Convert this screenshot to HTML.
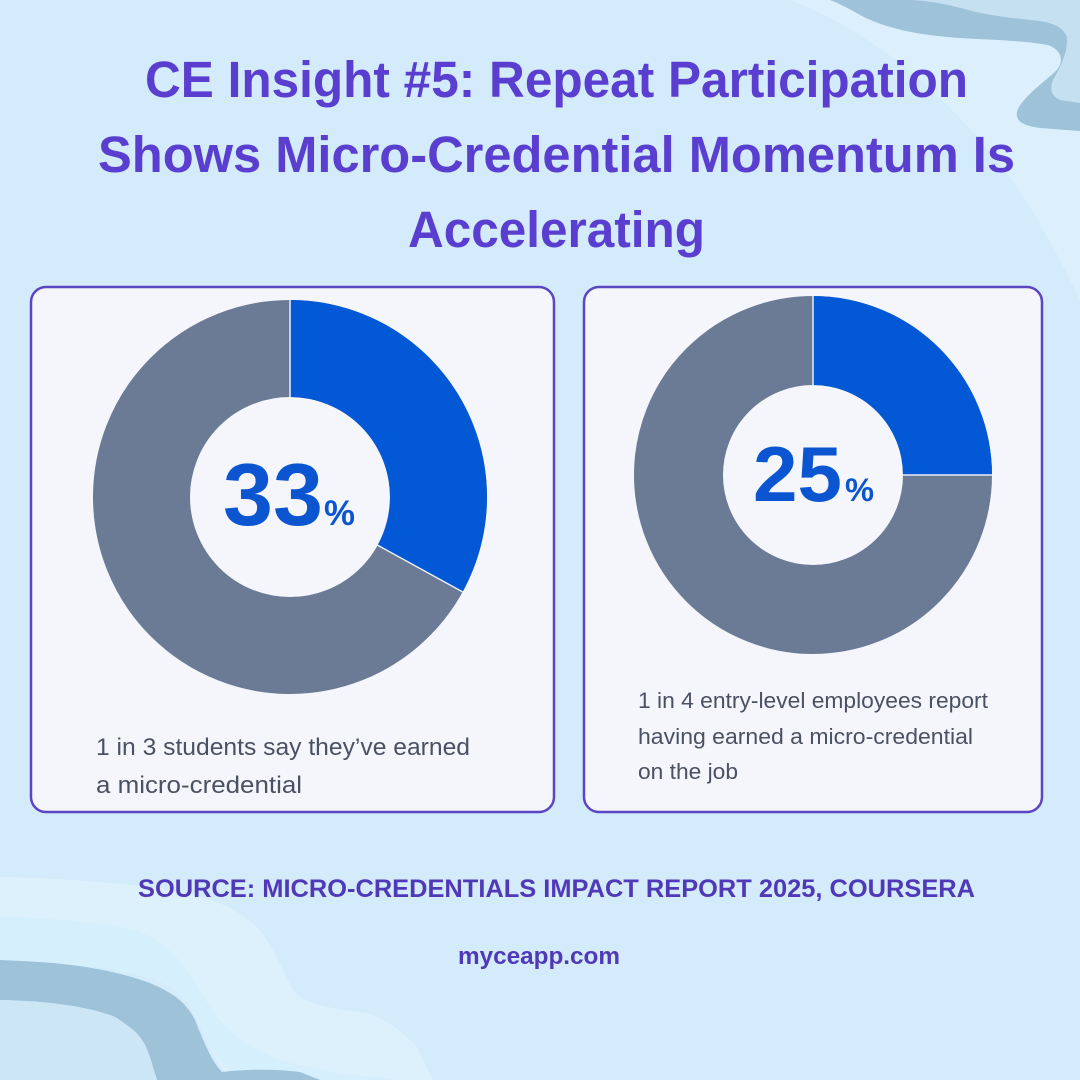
<!DOCTYPE html>
<html><head><meta charset="utf-8"><style>
html,body{margin:0;padding:0;background:#d3ebfa;}
svg{display:block;}
</style></head><body>
<svg width="1080" height="1080" viewBox="0 0 1080 1080" xmlns="http://www.w3.org/2000/svg">
<rect width="1080" height="1080" fill="#d3ebfa"/>
<!-- top-right light whitish stripe -->
<path d="M790 0 L830 0 C838 3 848 8 860 15 C885 28 915 35 960 38 C990 40 1020 40 1048 45 C1062 50 1065 62 1055 72 C1040 85 1020 100 1017 112 C1015 122 1025 126 1040 128 L1080 131 L1080 300 C1060 260 1040 220 1015 185 C990 150 960 115 920 80 C880 45 840 20 790 0 Z" fill="#dcf1fc" opacity="0.85"/>
<!-- top-right corner lighter region -->
<path d="M913 0 L1080 0 L1080 103 L1060 100 C1050 95 1050 88 1053 80 C1062 65 1068 50 1067 37 C1062 25 1050 23 1040 21 C1010 18 985 15 965 9 C945 4 930 1 913 0 Z" fill="#c4e0f1"/>
<!-- top-right dark band -->
<path d="M830 0 L913 0 C930 1 945 4 965 9 C985 15 1010 18 1040 21 C1050 23 1062 25 1067 37 C1068 50 1062 65 1053 80 C1050 88 1050 95 1060 100 L1080 103 L1080 131 L1040 128 C1025 126 1015 122 1017 112 C1020 100 1040 85 1055 72 C1065 62 1062 50 1048 45 C1020 40 990 40 960 38 C915 35 885 28 860 15 C848 8 838 3 830 0 Z" fill="#9ec2d8"/>
<!-- bottom-left whitish stripe -->
<path d="M0 877 C50 878 120 882 170 890 C220 898 250 915 267 940 C280 960 290 990 300 997 C320 1008 345 1010 367 1013 C390 1020 405 1035 417 1047 L433 1080 L230 1080 C215 1060 205 1040 195 1015 C185 995 170 985 150 978 C100 965 50 962 0 960 Z" fill="#dcf1fc"/>
<path d="M0 917 C60 919 110 922 140 932 C170 945 185 965 200 990 C215 1020 240 1045 280 1060 C320 1072 360 1076 400 1080 L240 1080 C215 1060 205 1040 195 1015 C185 995 170 985 150 978 C100 965 50 962 0 960 Z" fill="#d2eefc" opacity="0.7"/>
<!-- bottom-left dark band -->
<path d="M0 960 C50 962 100 965 150 983 C170 992 185 1000 195 1020 C205 1045 212 1062 222 1072 C240 1070 270 1068 300 1072 L320 1080 L157 1080 C152 1065 150 1055 145 1045 C138 1032 130 1027 115 1017 C90 1007 50 1001 0 1000 Z" fill="#9ec2d8"/>
<path d="M0 1000 C50 1001 90 1007 115 1017 C130 1027 138 1032 145 1045 C150 1055 152 1065 157 1080 L0 1080 Z" fill="#cce6f5"/>

<!-- Title -->
<g font-family="'Liberation Sans', sans-serif" font-weight="700" fill="#5a3ecf" font-size="51">
<text x="145" y="97" textLength="823" lengthAdjust="spacingAndGlyphs">CE Insight #5: Repeat Participation</text>
<text x="98" y="172" textLength="917" lengthAdjust="spacingAndGlyphs">Shows Micro-Credential Momentum Is</text>
<text x="408" y="247" textLength="297" lengthAdjust="spacingAndGlyphs">Accelerating</text>
</g>

<!-- Cards -->
<rect x="31" y="287" width="523" height="525" rx="15" ry="15" fill="#f4f6fb" stroke="#5c45c3" stroke-width="2.5"/>
<rect x="584" y="287" width="458" height="525" rx="15" ry="15" fill="#f4f6fb" stroke="#5c45c3" stroke-width="2.5"/>

<!-- Left donut -->
<circle cx="290" cy="497" r="148.5" fill="none" stroke="#6b7b96" stroke-width="97"/>
<path d="M290 300 A197 197 0 0 1 462.6 591.9 L377.6 545.2 A100 100 0 0 0 290 397 Z" fill="#0258d5"/>
<line x1="290" y1="300" x2="290" y2="397" stroke="#e8eef8" stroke-width="1.5"/>
<line x1="377.6" y1="545.2" x2="462.6" y2="591.9" stroke="#e8eef8" stroke-width="1.5"/>
<g font-family="'Liberation Sans', sans-serif" font-weight="700" fill="#0b56d0">
<text x="223" y="525" font-size="88" textLength="100" lengthAdjust="spacingAndGlyphs">33</text>
<text x="324" y="525" font-size="35" textLength="31" lengthAdjust="spacingAndGlyphs">%</text>
</g>

<!-- Right donut -->
<circle cx="813" cy="475" r="134.5" fill="none" stroke="#6b7b96" stroke-width="89"/>
<path d="M813 296 A179 179 0 0 1 992 475 L903 475 A90 90 0 0 0 813 385 Z" fill="#0258d5"/>
<line x1="813" y1="296" x2="813" y2="385" stroke="#e8eef8" stroke-width="1.5"/>
<line x1="903" y1="475" x2="992" y2="475" stroke="#e8eef8" stroke-width="1.5"/>
<g font-family="'Liberation Sans', sans-serif" font-weight="700" fill="#0b56d0">
<text x="753" y="501" font-size="78" textLength="89" lengthAdjust="spacingAndGlyphs">25</text>
<text x="845" y="501" font-size="32" textLength="29" lengthAdjust="spacingAndGlyphs">%</text>
</g>

<!-- Captions -->
<g font-family="'Liberation Sans', sans-serif" fill="#4a5163">
<text x="96" y="755" font-size="24" textLength="374" lengthAdjust="spacingAndGlyphs">1 in 3 students say they’ve earned</text>
<text x="96" y="793" font-size="24" textLength="206" lengthAdjust="spacingAndGlyphs">a micro-credential</text>
<text x="638" y="708" font-size="22.5" textLength="350" lengthAdjust="spacingAndGlyphs">1 in 4 entry-level employees report</text>
<text x="638" y="744" font-size="22.5" textLength="335" lengthAdjust="spacingAndGlyphs">having earned a micro-credential</text>
<text x="638" y="779" font-size="22.5" textLength="100" lengthAdjust="spacingAndGlyphs">on the job</text>
</g>

<!-- Footer -->
<g font-family="'Liberation Sans', sans-serif" font-weight="700" fill="#5039b8">
<text x="138" y="897" font-size="25" textLength="837" lengthAdjust="spacingAndGlyphs">SOURCE: MICRO-CREDENTIALS IMPACT REPORT 2025, COURSERA</text>
<text x="458" y="964" font-size="24" textLength="162" lengthAdjust="spacingAndGlyphs">myceapp.com</text>
</g>
</svg>
</body></html>
